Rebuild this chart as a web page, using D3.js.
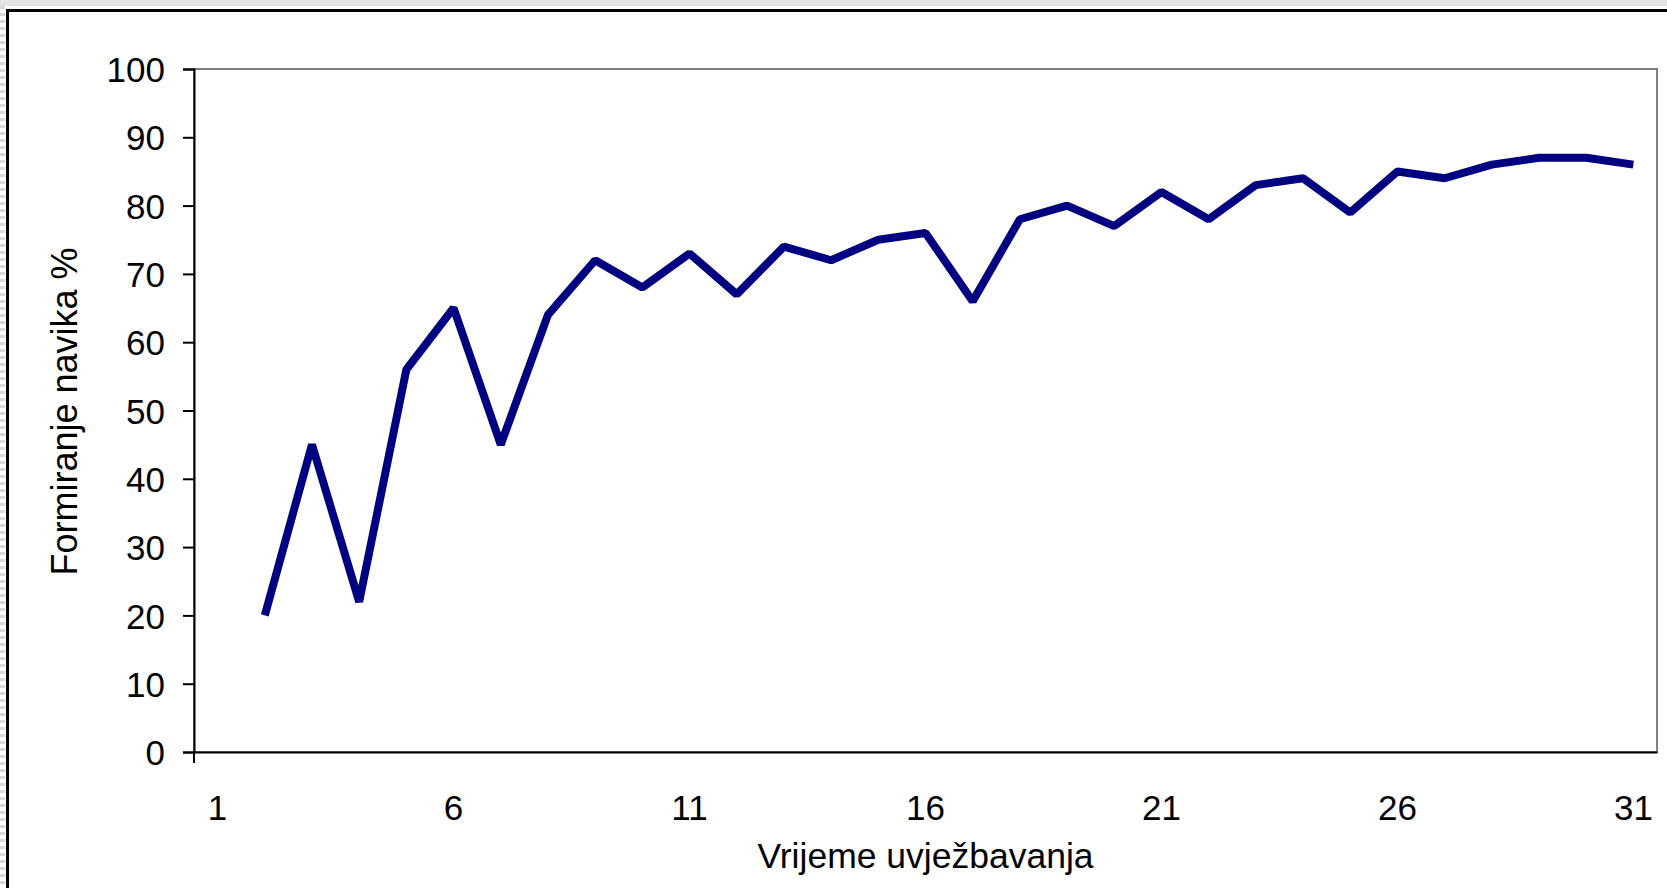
<!DOCTYPE html>
<html>
<head>
<meta charset="utf-8">
<script src="https://cdn.jsdelivr.net/npm/d3@7"></script>
<style>
  html, body { margin: 0; padding: 0; background: #fff; }
  svg { display: block; }
  text { font-family: "Liberation Sans", Arial, sans-serif; fill: #000; }
</style>
</head>
<body>
<div id="chart"></div>
<script>
// ---- data ----
const categories = d3.range(1, 32);           // 1 .. 31
const values = [null, 20, 45, 22, 56, 65, 45, 64, 72, 68, 73, 67, 74, 72, 75, 76,
                66, 78, 80, 77, 82, 78, 83, 84, 79, 85, 84, 86, 87, 87, 86];
const yTicks = [0, 10, 20, 30, 40, 50, 60, 70, 80, 90, 100];
const xLabels = [1, 6, 11, 16, 21, 26, 31];
const yTitle = "Formiranje navika %";
const xTitle = "Vrijeme uvježbavanja";

const W = 1667, H = 888;
const plot = { left: 194, top: 69, right: 1657, bottom: 752 };

const svg = d3.select("#chart").append("svg")
  .attr("width", W).attr("height", H);

// page frame (the grey strip and heavy black border of the original)
svg.append("rect").attr("x", 0).attr("y", 0).attr("width", W).attr("height", 6)
  .attr("fill", "#e4e4e4");
svg.append("line").attr("x1", 2.5).attr("x2", 2.5).attr("y1", 6).attr("y2", H)
  .attr("stroke", "#d8d8d8").attr("stroke-width", 5).attr("stroke-dasharray", "3,4");
svg.append("path")
  .attr("d", `M7.5,${H} V10.5 H${W}`)
  .attr("fill", "none").attr("stroke", "#000").attr("stroke-width", 3);

// scales
const x = d3.scaleBand().domain(categories).range([plot.left, plot.right]).padding(0);
const y = d3.scaleLinear().domain([0, 100]).range([plot.bottom, plot.top]);

// plot area frame (grey top/right)
svg.append("rect")
  .attr("x", plot.left).attr("y", plot.top)
  .attr("width", plot.right - plot.left).attr("height", plot.bottom - plot.top)
  .attr("fill", "#fff").attr("stroke", "#808080").attr("stroke-width", 2);

// y axis
const yAxis = svg.append("g")
  .attr("transform", `translate(${plot.left},0)`)
  .call(d3.axisLeft(y).tickValues(yTicks).tickSize(11).tickPadding(18));
yAxis.select(".domain").attr("stroke", "#000").attr("stroke-width", 2);
yAxis.selectAll(".tick line").attr("stroke", "#000").attr("stroke-width", 2);
yAxis.selectAll(".tick text")
  .style("font-size", "35px").style("font-family", "'Liberation Sans', Arial, sans-serif")
  .attr("fill", "#000").attr("dy", "0.36em");

// x axis (labels only, ticks only at the origin)
const xAxis = svg.append("g")
  .attr("transform", `translate(0,${plot.bottom})`)
  .call(d3.axisBottom(x).tickValues(xLabels).tickSize(0).tickPadding(43).tickSizeOuter(0));
xAxis.select(".domain").attr("stroke", "#000").attr("stroke-width", 2);
xAxis.selectAll(".tick text")
  .style("font-size", "35px").style("font-family", "'Liberation Sans', Arial, sans-serif")
  .attr("fill", "#000").attr("dy", "0.71em");
xAxis.append("line")
  .attr("x1", plot.left).attr("x2", plot.left).attr("y1", 0).attr("y2", 11)
  .attr("stroke", "#000").attr("stroke-width", 2);

// data line
const line = d3.line()
  .defined(d => d != null)
  .x((d, i) => x(categories[i]) + x.bandwidth() / 2)
  .y(d => y(d));

svg.append("path")
  .datum(values)
  .attr("d", line)
  .attr("fill", "none")
  .attr("stroke", "#000080")
  .attr("stroke-width", 8)
  .attr("stroke-linejoin", "bevel");

// axis titles
svg.append("text")
  .attr("transform", `translate(77,${(plot.top + plot.bottom) / 2 + 1}) rotate(-90)`)
  .attr("text-anchor", "middle")
  .style("font-size", "36px")
  .text(yTitle);

svg.append("text")
  .attr("x", (plot.left + plot.right) / 2)
  .attr("y", 868)
  .attr("text-anchor", "middle")
  .style("font-size", "35.5px")
  .text(xTitle);
</script>
</body>
</html>
